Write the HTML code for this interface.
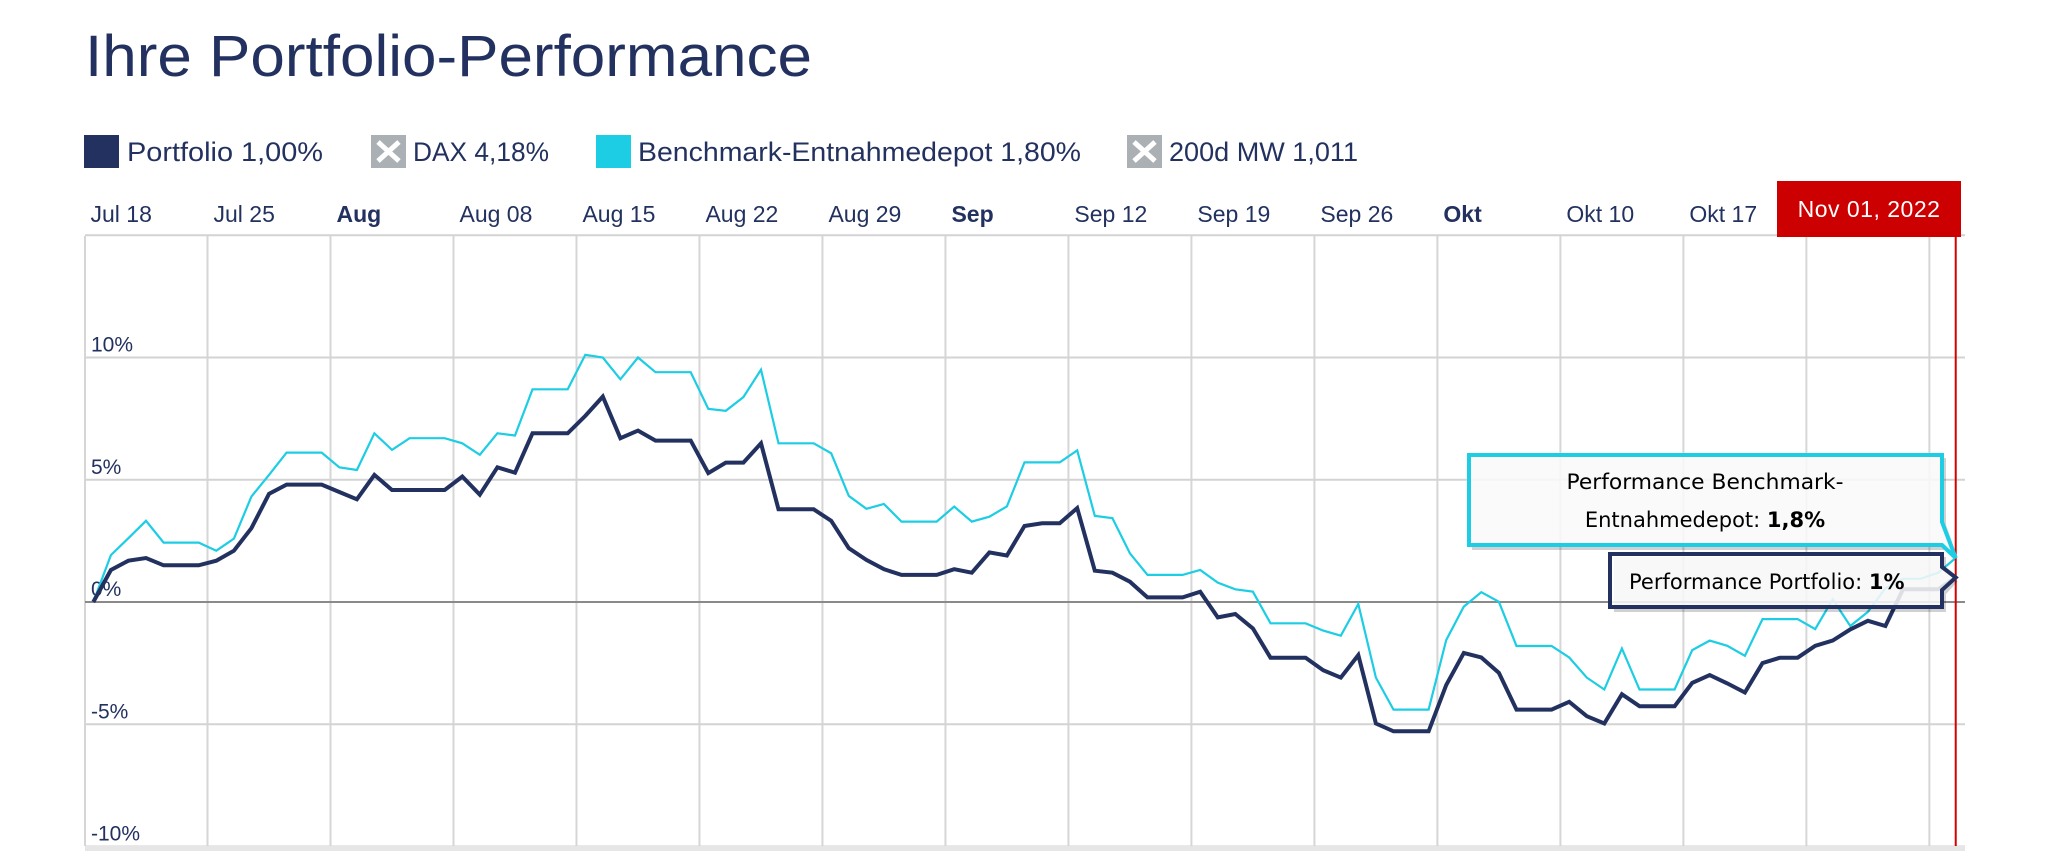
<!DOCTYPE html>
<html><head><meta charset="utf-8">
<style>
html,body{margin:0;padding:0;background:#fff;}
body{width:2048px;height:851px;overflow:hidden;}
svg{display:block;font-family:"Liberation Sans",sans-serif;}
</style></head>
<body>
<svg id="chart" width="2048" height="851" viewBox="0 0 2048 851" xmlns="http://www.w3.org/2000/svg">
  <text x="85" y="76" font-size="58" fill="#22315f" textLength="727" lengthAdjust="spacingAndGlyphs">Ihre Portfolio-Performance</text>

  <g>
    <g>
      <rect x="84" y="135" width="35" height="33" fill="#22315f"/>
      <text x="127" y="161" font-size="27" fill="#22315f" textLength="196" lengthAdjust="spacingAndGlyphs">Portfolio  1,00%</text>
    </g>
    <g>
      <rect x="371" y="135" width="35" height="33" fill="#aab0b3"/>
      <path d="M378 142 L399 161 M399 142 L378 161" stroke="#fff" stroke-width="5"/>
      <text x="413" y="161" font-size="27" fill="#22315f" textLength="136" lengthAdjust="spacingAndGlyphs">DAX  4,18%</text>
    </g>
    <g>
      <rect x="596" y="135" width="35" height="33" fill="#1ccde3"/>
      <text x="638" y="161" font-size="27" fill="#22315f" textLength="443" lengthAdjust="spacingAndGlyphs">Benchmark-Entnahmedepot  1,80%</text>
    </g>
    <g>
      <rect x="1127" y="135" width="35" height="33" fill="#aab0b3"/>
      <path d="M1134 142 L1155 161 M1155 142 L1134 161" stroke="#fff" stroke-width="5"/>
      <text x="1169" y="161" font-size="27" fill="#22315f" textLength="189" lengthAdjust="spacingAndGlyphs">200d MW  1,011</text>
    </g>
  </g>

  <g id="grid"></g>
  <g id="xlabels"></g>
  <g id="ylabels"></g>
  <g id="series"></g>
  <rect x="85" y="846" width="1880" height="5" fill="#e6e6e6"/>
  <g id="overlay"></g>
</svg>
<script>
const dates = ["Jul 18","Nov 01, 2022"];
const weekLabels = ["Jul 18","Jul 25","Aug","Aug 08","Aug 15","Aug 22","Aug 29","Sep","Sep 12","Sep 19","Sep 26","Okt","Okt 10","Okt 17","",""];
const boldLabels = ["Aug","Sep","Okt"];
const yTicks = [15,10,5,0,-5,-10];
const yTickLabels = ["","10%","5%","0%","-5%","-10%"];
const portfolio = [0,1.31,1.69,1.80,1.50,1.50,1.50,1.69,2.10,3.02,4.42,4.80,4.80,4.80,4.50,4.20,5.20,4.58,4.58,4.58,4.58,5.13,4.39,5.51,5.29,6.90,6.90,6.90,7.61,8.40,6.70,7.01,6.60,6.60,6.60,5.27,5.70,5.70,6.49,3.79,3.79,3.79,3.32,2.20,1.72,1.34,1.11,1.11,1.11,1.34,1.20,2.03,1.90,3.11,3.22,3.22,3.84,1.28,1.20,0.83,0.19,0.19,0.19,0.42,-0.63,-0.49,-1.08,-2.28,-2.28,-2.28,-2.79,-3.09,-2.17,-4.97,-5.29,-5.29,-5.29,-3.40,-2.08,-2.27,-2.90,-4.40,-4.40,-4.40,-4.08,-4.67,-4.97,-3.77,-4.26,-4.26,-4.26,-3.31,-2.99,-3.33,-3.70,-2.50,-2.28,-2.28,-1.79,-1.58,-1.12,-0.77,-0.98,0.52,0.52,0.52,1.0];
const benchmark = [0,1.92,2.61,3.32,2.43,2.43,2.43,2.10,2.59,4.31,5.20,6.11,6.11,6.11,5.51,5.40,6.90,6.22,6.70,6.70,6.70,6.49,6.02,6.90,6.81,8.70,8.70,8.70,10.11,10.0,9.11,10.0,9.40,9.40,9.40,7.90,7.82,8.38,9.50,6.49,6.49,6.49,6.08,4.34,3.81,4.01,3.29,3.29,3.29,3.90,3.29,3.49,3.91,5.71,5.71,5.71,6.20,3.52,3.43,1.99,1.11,1.11,1.11,1.31,0.79,0.52,0.42,-0.87,-0.87,-0.87,-1.17,-1.38,-0.08,-3.09,-4.40,-4.40,-4.40,-1.56,-0.19,0.40,0.01,-1.80,-1.80,-1.80,-2.27,-3.09,-3.58,-1.90,-3.58,-3.58,-3.58,-1.97,-1.58,-1.79,-2.20,-0.70,-0.70,-0.70,-1.11,0.11,-0.98,-0.40,0.56,0.95,0.95,1.2,1.8];
const portfolioLabel = "1%";
const benchmarkLabel = "1,8%";

const NS = "http://www.w3.org/2000/svg";
const X0 = 93.3, DX = 17.57, Y0 = 602, DY = 24.45;
function xs(i){ return X0 + DX*i; }
function ys(v){ return Y0 - DY*v; }
function mk(tag, attrs, parent){
  const e = document.createElementNS(NS, tag);
  for (const k in attrs) e.setAttribute(k, attrs[k]);
  parent.appendChild(e);
  return e;
}
const grid = document.getElementById('grid');
const xl = document.getElementById('xlabels');
const yl = document.getElementById('ylabels');
const series = document.getElementById('series');
const overlay = document.getElementById('overlay');
const left = 85, right = 1965;

// vertical gridlines + labels
weekLabels.forEach((lab, k) => {
  const x = xs(-0.5 + 7*k);
  if (k > 0) {
    const l = mk('line', {x1:x, x2:x, y1:236, y2:846, stroke:'#d6d6d6', 'stroke-width':2}, grid);
    
    
  }
  if (lab) {
    const t = mk('text', {x:x+6, y:222, 'font-size':23, fill:'#22315f', 'font-weight': boldLabels.includes(lab)?'bold':'normal'}, xl);
    t.textContent = lab;
    
    
  }
});
// left border
const lb = mk('line', {x1:left, x2:left, y1:236, y2:846, stroke:'#d6d6d6', 'stroke-width':2}, grid);



// horizontal gridlines + labels
yTicks.forEach((v, i) => {
  const y = ys(v);
  const g = mk('line', {x1:left, x2:right, y1:y, y2:y, stroke: v===0?'#8a8a8a':'#d3d3d3', 'stroke-width': 2}, grid);
  
  
  if (yTickLabels[i]) {
    const t = mk('text', {x:91, y:y-6, 'font-size':21, fill:'#22315f'}, yl);
    t.textContent = yTickLabels[i];
    
    
  }
});

function pathFor(arr){ return arr.map((v,i)=>(i?'L':'M')+xs(i).toFixed(1)+' '+ys(v).toFixed(1)).join(' '); }
const bl = mk('path', {d:pathFor(benchmark), fill:'none', stroke:'#1ccde3', 'stroke-width':2.2, 'stroke-linejoin':'miter'}, series);


const pl = mk('path', {d:pathFor(portfolio), fill:'none', stroke:'#22315f', 'stroke-width':4, 'stroke-linejoin':'miter'}, series);



// crosshair and date label
const last = portfolio.length - 1;
const cx = xs(last);
const ch = mk('line', {x1:cx, x2:cx, y1:236, y2:846, stroke:'#d40000', 'stroke-width':2}, overlay);


const db = mk('rect', {x:1777, y:181, width:184, height:56, fill:'#cc0000'}, overlay);


const dt = mk('text', {x:1869, y:217, 'font-size':23, fill:'#fff', 'text-anchor':'middle', 'letter-spacing':'0.5'}, overlay);
dt.textContent = dates[1];



// tooltips
const bY = ys(benchmark[last]), pY = ys(portfolio[last]);
const bt = mk('g', {}, overlay);


mk('path', {d:`M1472 458 L1946 458 L1946 525 L${cx+2} ${bY} L1946 550 L1472 550 Z`, fill:'#000', opacity:0.18}, bt);
mk('path', {d:`M1469 455 L1942 455 L1942 522 L${cx} ${bY} L1942 545 L1469 545 Z`, fill:'#fff', 'fill-opacity':0.88, stroke:'#1ccde3', 'stroke-width':4}, bt);
const bt1 = mk('text', {x:1705, y:489, 'font-size':21, fill:'#000', 'text-anchor':'middle', 'font-family':'"DejaVu Sans",sans-serif', textLength:277, lengthAdjust:'spacingAndGlyphs'}, bt);
bt1.textContent = "Performance Benchmark-";
const bt2 = mk('text', {x:1705, y:527, 'font-size':21, fill:'#000', 'text-anchor':'middle', 'font-family':'"DejaVu Sans",sans-serif'}, bt);
bt2.textContent = "Entnahmedepot: ";
const bt2b = mk('tspan', {'font-weight':'bold'}, bt2);
bt2b.textContent = benchmarkLabel;

const pt = mk('g', {}, overlay);


mk('path', {d:`M1614 557 L1946 557 L1946 571 L${cx+2} ${pY+4} L1946 594 L1946 612 L1614 612 Z`, fill:'#000', opacity:0.18}, pt);
mk('path', {d:`M1610 554 L1942 554 L1942 567 L${cx} ${pY} L1942 590 L1942 607 L1610 607 Z`, fill:'#fff', 'fill-opacity':0.85, stroke:'#22315f', 'stroke-width':4}, pt);
const pt1 = mk('text', {x:1629, y:589, 'font-size':21, fill:'#000', 'font-family':'"DejaVu Sans",sans-serif'}, pt);
pt1.textContent = "Performance Portfolio: ";
const pt1b = mk('tspan', {'font-weight':'bold'}, pt1);
pt1b.textContent = portfolioLabel;
</script>
</body></html>
